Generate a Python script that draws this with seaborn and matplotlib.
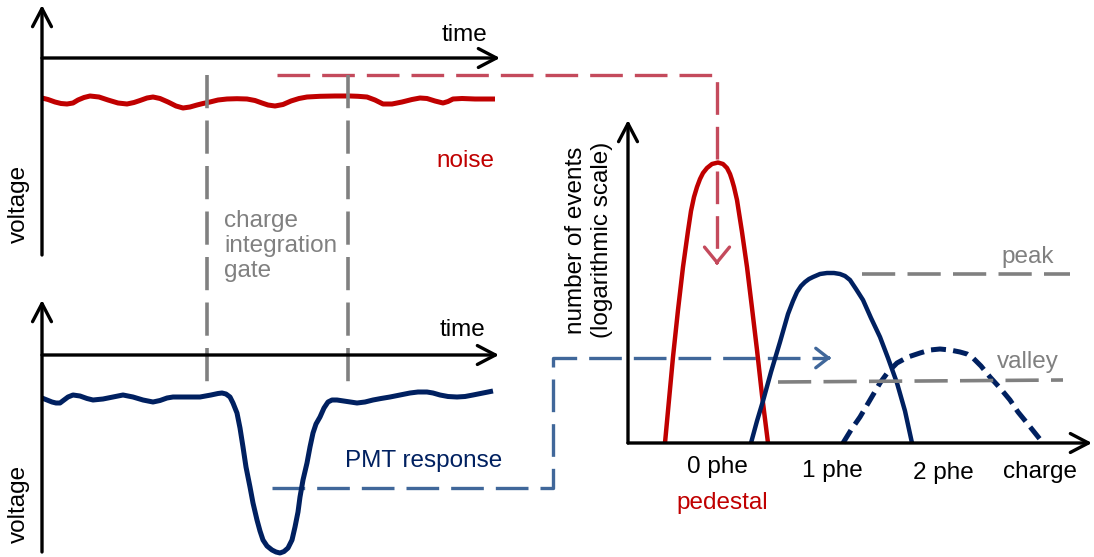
import matplotlib
matplotlib.use("Agg")
import matplotlib.pyplot as plt
import seaborn as sns

# ---------------------------------------------------------------------------
# Waveforms: time and voltage in arbitrary units (0 V on the time axis)
# ---------------------------------------------------------------------------
noise_time = [0, 6, 13, 19, 25, 31, 36, 42, 48, 57, 66, 76, 85, 92, 98, 105,
              111, 118, 126, 134, 141, 148, 155, 161, 168, 176, 185, 195, 205,
              213, 220, 226, 233, 241, 249, 257, 265, 278, 293, 308, 316, 325,
              333, 341, 350, 360, 370, 378, 385, 393, 401, 406, 411, 420, 433,
              453]
noise_voltage = [-40, -41.5, -44, -45.5, -46, -45, -42, -39.5, -38, -39, -42,
                 -45, -46, -44.5, -42.5, -40, -39, -40.5, -44, -48, -50, -49,
                 -47, -45.5, -44, -42, -41, -40.7, -41, -42.5, -45, -47, -48,
                 -46.5, -43, -40.5, -39, -38.3, -38, -38, -38.3, -39, -42, -46,
                 -46, -44, -41.5, -40, -40.5, -43, -45, -43.5, -41, -40.5, -41,
                 -41]

pmt_time = [0, 5, 10, 14, 18, 22, 26, 31, 38, 45, 51, 61, 71, 81, 91, 101, 111,
            118, 125, 131, 145, 158, 169, 176, 180, 184, 188, 191, 195, 198,
            201, 204, 208, 211, 215, 218, 221, 225, 230, 234, 238, 242, 246,
            250, 253, 256, 258, 261, 265, 268, 271, 274, 278, 282, 286, 290,
            295, 305, 315, 323, 331, 339, 348, 358, 368, 376, 385, 391, 398,
            406, 415, 423, 431, 441, 451]
pmt_voltage = [-43, -45, -47, -48, -48, -45, -42, -40, -41, -43.5, -45, -44,
               -42, -40, -42, -45, -47, -45.5, -43, -42, -42, -42, -40, -38.5,
               -38, -39, -42, -48, -58, -73, -92, -112, -132, -148, -165, -176,
               -185, -191, -195, -197, -198, -196.5, -193, -185, -172, -157,
               -142, -125, -108, -92, -78, -69, -62, -53, -47, -45, -45, -46.5,
               -48, -47, -45, -43.5, -42, -40, -38, -37, -37, -38, -40, -41.5,
               -42, -41.5, -40, -38, -36]

# charge integration gate (start, end) in waveform time units
gate_window = [165, 306]

# ---------------------------------------------------------------------------
# Charge spectrum: charge (a.u.) vs number of events (log scale, a.u.)
# ---------------------------------------------------------------------------
pedestal_charge = [37, 41, 45, 50, 55, 60, 63, 66, 69, 72, 75, 79, 84, 90, 95,
                   99, 102, 104, 106, 109, 114, 119, 124, 129, 134, 140]
pedestal_events = [0, 43, 86, 133, 176, 212, 232, 246, 256, 264, 270, 275, 279,
                   280.5, 279, 275, 269, 263, 256, 243, 211, 176, 135, 93, 48,
                   0]

one_phe_charge = [123, 129, 135, 143, 152, 160, 165, 169, 173, 177, 181, 185,
                  192, 199, 206, 212, 217, 222, 228, 235, 243, 252, 260, 269,
                  277, 284]
one_phe_events = [0, 22, 42, 71, 101, 129, 142, 151, 157, 161, 164, 166, 169,
                  170, 170, 169, 167, 163, 154, 143, 125, 106, 85, 60, 32, 0]

two_phe_charge = [215, 223, 232, 242, 252, 260, 269, 280, 292, 302, 312, 322,
                  332, 339, 345, 353, 362, 372, 382, 390, 399, 407, 415]
two_phe_events = [0, 13, 26, 43, 60, 71, 80, 86, 90, 93, 94, 93, 91, 89, 85,
                  77, 66, 55, 43, 31, 20, 10, 0]

peak_level = [169, 169]
peak_span = [234, 442]
valley_level = [61, 63]
valley_span = [150, 435]

charge_labels = ["0 phe", "1 phe", "2 phe", "charge"]
charge_label_pos = [89, 204, 315, 412]
charge_label_drop = [24, 28, 30, 29]

# ---------------------------------------------------------------------------
sns.set_theme(style="white")
plt.rcParams["font.family"] = ["Liberation Sans", "DejaVu Sans"]

RED = "#C00000"
NAVY = "#002060"
GREY = "#808080"
LINK_RED = "#C44A5C"
LINK_BLUE = "#40679A"
FS = 17.5

W, H = 1094, 557
fig = plt.figure(figsize=(W / 100, H / 100), dpi=100)
fig.patch.set_facecolor("white")

# figure-wide layer (pixel units) for connectors and labels
over = fig.add_axes([0, 0, 1, 1])
over.set_xlim(0, W)
over.set_ylim(H, 0)
over.axis("off")


def panel(x0, x1, y0, y1):
    ax = fig.add_axes([x0 / W, 1 - y1 / H, (x1 - x0) / W, (y1 - y0) / H])
    ax.axis("off")
    return ax


def axis_arrow(ax, start, end):
    ax.annotate("", xy=end, xytext=start, annotation_clip=False,
                arrowprops=dict(arrowstyle="->,head_length=0.65,head_width=0.34",
                                lw=2.4, color="black", shrinkA=0, shrinkB=0,
                                mutation_scale=20))


ax_noise = panel(42, 500, 5, 255)
ax_noise.set_xlim(0, 458)
ax_noise.set_ylim(-197, 53)

ax_pmt = panel(42, 500, 300, 555)
ax_pmt.set_xlim(0, 458)
ax_pmt.set_ylim(-200, 55)

ax_hist = panel(628, 1090, 120, 443)
ax_hist.set_xlim(0, 462)
ax_hist.set_ylim(0, 323)

# ---- connectors (drawn beneath the curves) ----
over.plot([277, 717, 717], [75, 75, 258], color=LINK_RED, lw=2.4,
          dashes=(9.8, 3.6), solid_joinstyle="miter")
over.annotate("", xy=(717, 265), xytext=(717, 262),
              arrowprops=dict(arrowstyle="->,head_length=0.55,head_width=0.45",
                              lw=2.4, color=LINK_RED, shrinkA=0, shrinkB=0,
                              mutation_scale=20))
over.plot([272, 553, 553, 826], [488, 488, 358, 358], color=LINK_BLUE, lw=2.4,
          dashes=(9.8, 3.6))
over.annotate("", xy=(831, 358), xytext=(828, 358),
              arrowprops=dict(arrowstyle="->,head_length=0.45,head_width=0.35",
                              lw=2.4, color=LINK_BLUE, shrinkA=0, shrinkB=0,
                              mutation_scale=20))

# ---- noise waveform ----
axis_arrow(ax_noise, (0, -197), (0, 53))
axis_arrow(ax_noise, (0, 0), (458, 0))
sns.lineplot(x=noise_time, y=noise_voltage, ax=ax_noise, sort=False,
             estimator=None, color=RED, linewidth=3.6, solid_capstyle="butt",
             solid_joinstyle="round")

# ---- PMT waveform ----
axis_arrow(ax_pmt, (0, -197), (0, 55))
axis_arrow(ax_pmt, (0, 0), (457, 0))
sns.lineplot(x=pmt_time, y=pmt_voltage, ax=ax_pmt, sort=False,
             estimator=None, color=NAVY, linewidth=3.6, solid_capstyle="butt",
             solid_joinstyle="round")

# charge integration gate, spanning both waveforms
ax_pmt.vlines(gate_window, 280, -28, colors=GREY, lw=2.6, clip_on=False)
ax_pmt.collections[-1].set_linestyle((0, (9.2, 3.4)))

# ---- charge spectrum ----
axis_arrow(ax_hist, (0, 0), (0, 323))
axis_arrow(ax_hist, (0, 0), (464, 0))
sns.lineplot(x=pedestal_charge, y=pedestal_events, ax=ax_hist, sort=False,
             estimator=None, color=RED, linewidth=3.2, solid_capstyle="butt",
             solid_joinstyle="round")
sns.lineplot(x=one_phe_charge, y=one_phe_events, ax=ax_hist, sort=False,
             estimator=None, color=NAVY, linewidth=3.2, solid_capstyle="butt",
             solid_joinstyle="round")
sns.lineplot(x=two_phe_charge, y=two_phe_events, ax=ax_hist, sort=False,
             estimator=None, color=NAVY, linewidth=3.6)
ax_hist.lines[-1].set_dashes((3.0, 1.45))
ax_hist.plot(peak_span, peak_level, color=GREY, lw=2.6, dashes=(9.2, 3.4))
ax_hist.plot(valley_span, valley_level, color=GREY, lw=2.6, dashes=(9.2, 3.4))
for ax in (ax_noise, ax_pmt, ax_hist):
    for ln in ax.lines:
        ln.set_clip_on(False)

# ---- text ----
txt = dict(fontsize=FS, ha="center", va="center")
over.text(465, 35, "time", color="black", **txt)
over.text(463, 330, "time", color="black", **txt)
over.text(19, 204, "voltage", rotation=90, color="black", **txt)
over.text(19, 504, "voltage", rotation=90, color="black", **txt)
over.text(465, 161, "noise", color=RED, **txt)
over.text(224, 246, "charge\nintegration\ngate", color=GREY, fontsize=FS,
          ha="left", va="center", linespacing=1.2)
over.text(424, 461, "PMT response", color=NAVY, **txt)
over.text(589, 240, "number of events\n(logarithmic scale)", rotation=90,
          color="black", multialignment="center", linespacing=1.2, **txt)
for lab, q, d in zip(charge_labels, charge_label_pos, charge_label_drop):
    over.text(628 + q, 443 + d, lab, color="black", **txt)
over.text(722, 503, "pedestal", color=RED, **txt)
over.text(1028, 257, "peak", color=GREY, **txt)
over.text(1028, 362, "valley", color=GREY, **txt)

fig.savefig("out.png", dpi=100)
